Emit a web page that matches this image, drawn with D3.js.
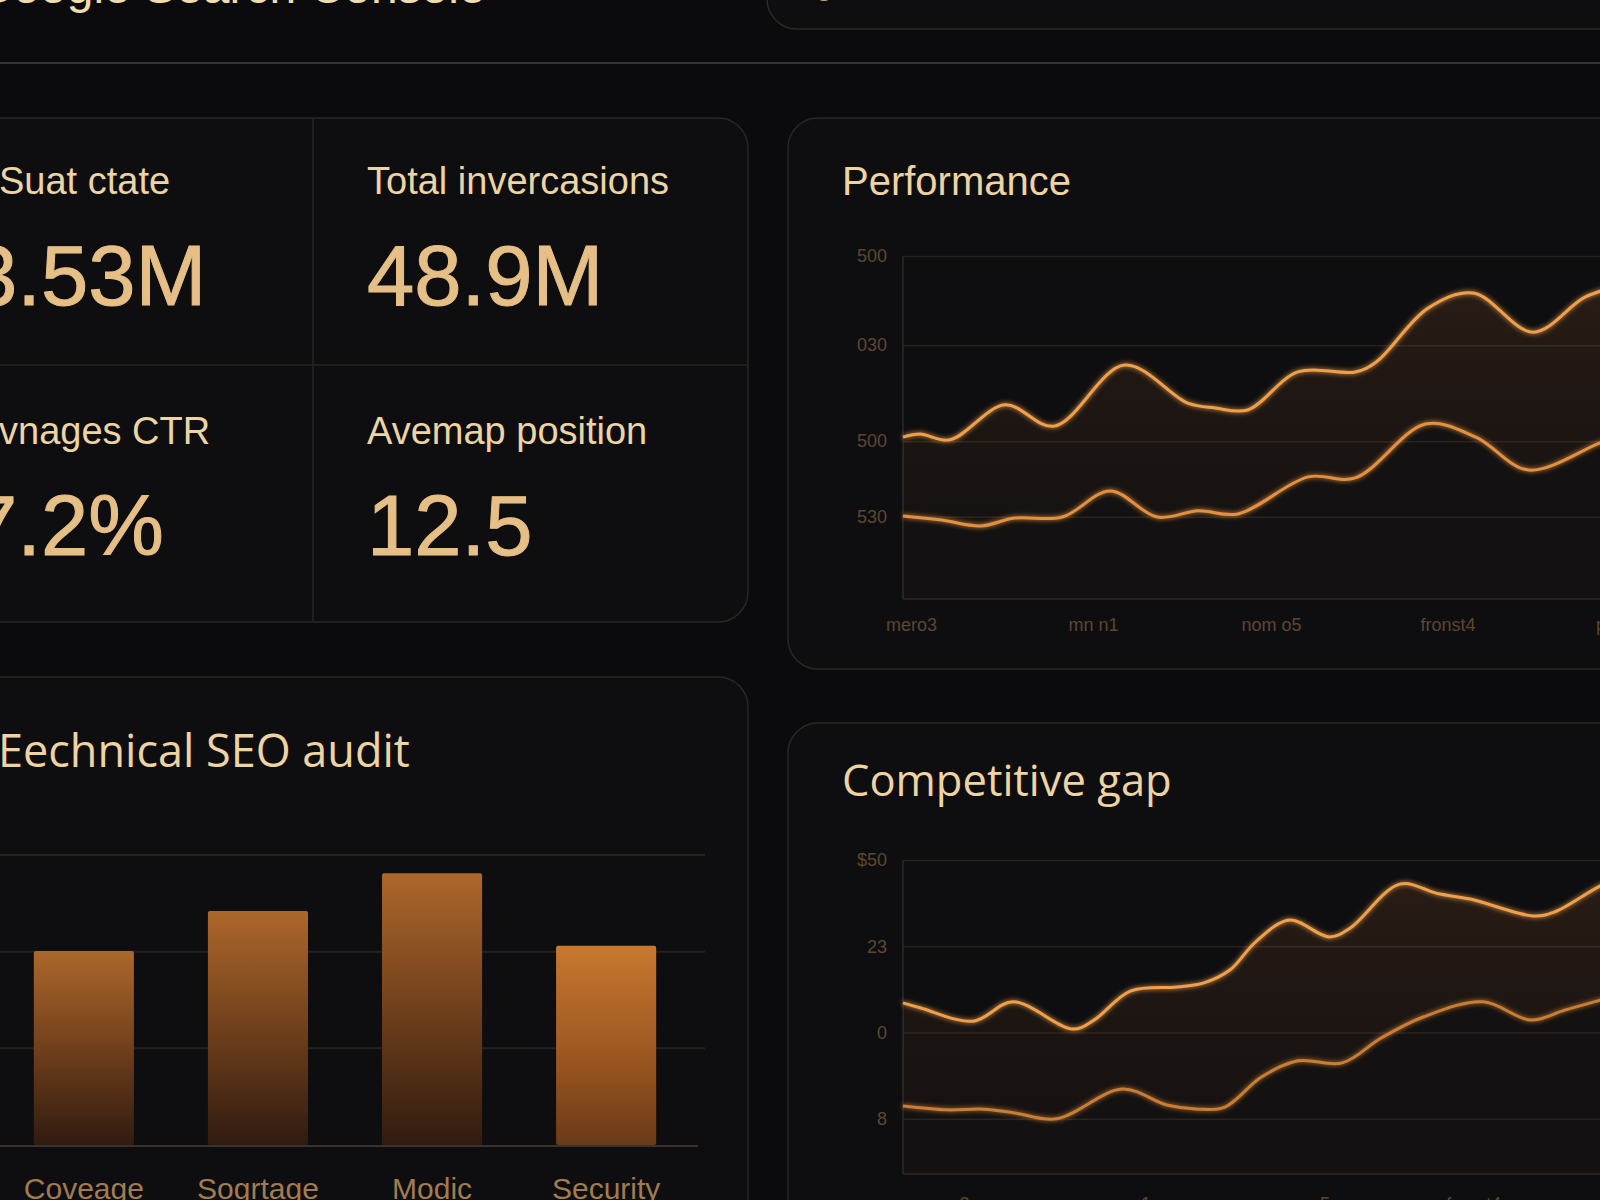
<!DOCTYPE html>
<html>
<head>
<meta charset="utf-8">
<script src="https://d3js.org/d3.v7.min.js"></script>
<style>
  body { margin: 0; background: #0b0b0d; }
  svg { display: block; }
</style>
</head>
<body>
<svg id="drawing_region"></svg>
<script>
// KPI tiles
const kpiLabels = ["Suat ctate", "Total invercasions", "vnages CTR", "Avemap position"];
const kpiValues = ["3.53M", "48.9M", "7.2%", "12.5"];

// Performance (two series, x in chart units 0..100)
const perfTopX = [0, 2.1, 5.8, 12.6, 18.7, 27.4, 35.2, 38.6, 42.6, 48.8, 55.9, 58.5, 64.9, 70.5, 77.9, 84.3, 89];
const perfTopY = [47.2, 48.1, 46.4, 56.6, 50.4, 68.2, 57.1, 55.7, 55.1, 66.2, 66.2, 69.1, 84.8, 89.2, 77.8, 88.0, 91.5];
const perfLowX = [0, 4.8, 9.6, 13.8, 19.7, 25.6, 31.4, 36.5, 41.4, 50.1, 55.9, 64.6, 70.8, 77.3, 86.2, 89];
const perfLowY = [24.2, 23.0, 21.3, 23.6, 23.9, 31.5, 23.9, 25.7, 24.8, 35.6, 35.3, 51.0, 47.2, 37.6, 45.5, 47.5];
const perfTicks = [100, 74, 46, 24];
const perfTickLabels = ["500", "030", "500", "530"];
const perfXTicks = [1, 23.5, 45.5, 67.3, 89];
const perfXLabels = ["mero3", "mn n1", "nom o5", "fronst4", "pmon7"];

// Technical SEO audit
const auditCategories = ["Coveage", "Sogrtage", "Modic", "Security"];
const auditValues = [50.2, 60.5, 70.3, 51.5];
const auditTicks = [0, 25, 50, 75];

// Competitive gap
const gapTopX = [0, 2.2, 8.7, 13.6, 21.0, 23.6, 28.1, 33.9, 37.2, 40.4, 43.6, 47.8, 52.7, 55.3, 61.4, 66.2, 70.1, 77.9, 80.5, 86.2, 89.2];
const gapTopY = [33.6, 32.1, 28.3, 33.9, 26.0, 28.6, 37.0, 38.2, 39.4, 43.1, 51.3, 57.6, 52.7, 55.3, 68.0, 65.2, 63.7, 58.8, 59.9, 67.5, 70.4];
const gapLowX = [0, 5.4, 10.0, 13.8, 19.0, 27.1, 32.6, 36.5, 39.8, 44.3, 48.8, 54.3, 59.1, 64.3, 71.7, 77.6, 81.8, 86.2, 89.2];
const gapLowY = [3.7, 2.6, 2.8, 1.7, 0, 8.6, 4.0, 2.8, 3.4, 12.1, 16.8, 16.2, 23.4, 29.5, 33.9, 28.6, 31.5, 34.4, 36.5];
const gapTicks = [75, 50, 25, 0];
const gapTickLabels = ["$50", "23", "0", "8"];
const gapXTicks = [5, 27.5, 49, 70.5, 85.5];
const gapXLabels = ["mero3", "mn n1", "nom o5", "fronst4", "pmon7"];

const W = 1600, H = 1200;
const svg = d3.select('#drawing_region').attr('width', W).attr('height', H);
const sans = "'Liberation Sans', Arial, sans-serif";
const round = "'Open Sans', 'Liberation Sans', sans-serif";

svg.append('rect').attr('width', W).attr('height', H).attr('fill', '#0b0b0d');

// defs: gradients + glow
const defs = svg.append('defs');
const areaGrad = defs.append('linearGradient').attr('id', 'areaGrad')
    .attr('x1', 0).attr('y1', 0).attr('x2', 0).attr('y2', 1);
areaGrad.append('stop').attr('offset', '0%').attr('stop-color', '#b8692c').attr('stop-opacity', 0.16);
areaGrad.append('stop').attr('offset', '100%').attr('stop-color', '#7a4520').attr('stop-opacity', 0.07);

const barGrad = defs.append('linearGradient').attr('id', 'barGrad')
    .attr('x1', 0).attr('y1', 0).attr('x2', 0).attr('y2', 1);
barGrad.append('stop').attr('offset', '0%').attr('stop-color', '#ad672b');
barGrad.append('stop').attr('offset', '55%').attr('stop-color', '#6a3c1a');
barGrad.append('stop').attr('offset', '100%').attr('stop-color', '#301b10');

const barHot = defs.append('linearGradient').attr('id', 'barHot')
    .attr('x1', 0).attr('y1', 0).attr('x2', 0).attr('y2', 1);
barHot.append('stop').attr('offset', '0%').attr('stop-color', '#c8782f');
barHot.append('stop').attr('offset', '60%').attr('stop-color', '#985420');
barHot.append('stop').attr('offset', '100%').attr('stop-color', '#6a3a18');

const glow = defs.append('filter').attr('id', 'glow')
    .attr('x', '-10%').attr('y', '-30%').attr('width', '120%').attr('height', '160%');
glow.append('feGaussianBlur').attr('stdDeviation', 2.5).attr('result', 'b');
const merge = glow.append('feMerge');
merge.append('feMergeNode').attr('in', 'b');
merge.append('feMergeNode').attr('in', 'SourceGraphic');

// header
svg.append('text').attr('x', -24).attr('y', 3)
    .attr('font-family', sans).attr('font-size', 48).attr('fill', '#f0dcae')
    .text('Google Search Console');
svg.append('rect').attr('x', 767).attr('y', -60).attr('width', 900).attr('height', 89)
    .attr('rx', 30).attr('fill', '#0e0e10').attr('stroke', '#2e2925').attr('stroke-width', 1.5);
svg.append('circle').attr('cx', 824).attr('cy', -9).attr('r', 9)
    .attr('fill', 'none').attr('stroke', '#c7b187').attr('stroke-width', 2);
svg.append('line').attr('x1', 0).attr('x2', W).attr('y1', 63).attr('y2', 63)
    .attr('stroke', '#3b332d').attr('stroke-width', 2);

// cards
const cards = [
    { x: -40, y: 118, w: 788, h: 504 },
    { x: 788, y: 118, w: 900, h: 551 },
    { x: -40, y: 677, w: 788, h: 620 },
    { x: 788, y: 723, w: 900, h: 600 }
];
svg.selectAll('rect.card').data(cards).enter().append('rect')
    .attr('class', 'card')
    .attr('x', d => d.x).attr('y', d => d.y)
    .attr('width', d => d.w).attr('height', d => d.h)
    .attr('rx', 30)
    .attr('fill', '#0e0e10').attr('stroke', '#2c2723').attr('stroke-width', 1.5);

// KPI tiles
svg.append('line').attr('x1', 313).attr('x2', 313).attr('y1', 119).attr('y2', 621)
    .attr('stroke', '#2a2521').attr('stroke-width', 1.5);
svg.append('line').attr('x1', 0).attr('x2', 747).attr('y1', 365).attr('y2', 365)
    .attr('stroke', '#2a2521').attr('stroke-width', 1.5);

const kpiPos = [
    { lx: -1, vx: -30, ly: 194, vy: 305 },
    { lx: 367, vx: 367, ly: 194, vy: 305 },
    { lx: -1, vx: -30, ly: 444, vy: 555 },
    { lx: 367, vx: 367, ly: 444, vy: 555 }
];
kpiLabels.forEach((lab, i) => {
    const p = kpiPos[i];
    svg.append('text').attr('x', p.lx).attr('y', p.ly)
        .attr('font-family', sans).attr('font-size', 38).attr('fill', '#ecd4a5')
        .text(lab);
    svg.append('text').attr('x', p.vx).attr('y', p.vy)
        .attr('font-family', sans).attr('font-size', 85).attr('fill', '#e6bf86')
        .attr('stroke', '#e6bf86').attr('stroke-width', 1)
        .text(kpiValues[i]);
});

// band chart: two lines with filled gap
function bandChart(cfg) {
    const g = svg.append('g');
    const x = d3.scaleLinear().domain([0, 100]).range([903, 1712]);
    const y = d3.scaleLinear().domain(cfg.yDomain).range(cfg.yRange);

    g.append('text').attr('x', 842).attr('y', cfg.titleY)
        .attr('font-family', cfg.titleFont).attr('font-size', cfg.titleSize).attr('fill', '#eed3a3')
        .text(cfg.title);

    const yAxis = g.append('g').attr('transform', 'translate(903,0)')
        .call(d3.axisLeft(y).tickValues(cfg.ticks)
            .tickFormat((d, i) => cfg.tickLabels[i])
            .tickSize(-800).tickPadding(16));
    yAxis.select('.domain').remove();
    yAxis.selectAll('line').attr('stroke', '#26221e').attr('stroke-width', 1.5);
    yAxis.selectAll('text').attr('font-family', sans).attr('font-size', 18).attr('fill', '#5e4731');

    const xAxis = g.append('g').attr('transform', `translate(0,${cfg.yRange[0]})`)
        .call(d3.axisBottom(x).tickValues(cfg.xTicks)
            .tickFormat((d, i) => cfg.xLabels[i])
            .tickSize(0).tickPadding(cfg.xPad));
    xAxis.select('.domain').remove();
    xAxis.selectAll('text').attr('font-family', sans).attr('font-size', 18).attr('fill', '#5e4731');

    g.append('line').attr('x1', 903).attr('x2', 903).attr('y1', cfg.yRange[1]).attr('y2', cfg.yRange[0])
        .attr('stroke', '#2f2924').attr('stroke-width', 1.5);
    g.append('line').attr('x1', 903).attr('x2', W).attr('y1', cfg.yRange[0]).attr('y2', cfg.yRange[0])
        .attr('stroke', '#2f2924').attr('stroke-width', 1.5);

    const top = d3.zip(cfg.topX, cfg.topY);
    const low = d3.zip(cfg.lowX, cfg.lowY);
    const line = d3.line().x(d => x(d[0])).y(d => y(d[1])).curve(d3.curveCatmullRom.alpha(0.5));

    // gap fill: upper line forward, lower line back
    const back = line(low.slice().reverse());
    g.append('path')
        .attr('d', line(top) + 'L' + back.slice(1) + 'Z')
        .attr('fill', 'url(#areaGrad)');
    // faint wash under the lower line
    const under = d3.area().x(d => x(d[0])).y0(cfg.yRange[0]).y1(d => y(d[1]))
        .curve(d3.curveCatmullRom.alpha(0.5));
    g.append('path').attr('d', under(low)).attr('fill', '#7a4520').attr('opacity', 0.05);

    g.append('path').attr('d', line(top))
        .attr('fill', 'none').attr('stroke', '#f0a04c').attr('stroke-width', 3)
        .attr('filter', 'url(#glow)');
    g.append('path').attr('d', line(low))
        .attr('fill', 'none').attr('stroke', cfg.lowColor).attr('stroke-width', 3)
        .attr('filter', 'url(#glow)');
}

bandChart({
    title: 'Performance', titleY: 195, titleSize: 40, titleFont: sans,
    yDomain: [0, 100], yRange: [599, 256],
    ticks: perfTicks, tickLabels: perfTickLabels,
    xTicks: perfXTicks, xLabels: perfXLabels, xPad: 19,
    topX: perfTopX, topY: perfTopY, lowX: perfLowX, lowY: perfLowY,
    lowColor: '#e3903f'
});

bandChart({
    title: 'Competitive gap', titleY: 796, titleSize: 43.5, titleFont: round,
    yDomain: [-16, 75], yRange: [1174, 860],
    ticks: gapTicks, tickLabels: gapTickLabels,
    xTicks: gapXTicks, xLabels: gapXLabels, xPad: 23,
    topX: gapTopX, topY: gapTopY, lowX: gapLowX, lowY: gapLowY,
    lowColor: '#c97d36'
});

// Technical SEO audit bars
const tech = svg.append('g');
tech.append('text').attr('x', -2).attr('y', 767)
    .attr('font-family', round).attr('font-size', 45).attr('fill', '#eed3a3')
    .text('Eechnical SEO audit');

const bx = d3.scaleBand().domain(auditCategories).range([-1, 691])
    .paddingInner(0.425).paddingOuter(0.2);
const by = d3.scaleLinear().domain([0, 75]).range([1145, 855]);

tech.selectAll('line.grid').data(auditTicks.slice(1)).enter().append('line')
    .attr('class', 'grid')
    .attr('x1', 0).attr('x2', 705)
    .attr('y1', d => by(d)).attr('y2', d => by(d))
    .attr('stroke', '#25211d').attr('stroke-width', 2);

tech.selectAll('rect.bar').data(auditValues).enter().append('rect')
    .attr('class', 'bar')
    .attr('x', (d, i) => bx(auditCategories[i]))
    .attr('y', d => by(d))
    .attr('width', bx.bandwidth())
    .attr('height', d => by(0) - by(d))
    .attr('rx', 2)
    .attr('fill', (d, i) => i === 3 ? 'url(#barHot)' : 'url(#barGrad)');

tech.append('line').attr('x1', 0).attr('x2', 698).attr('y1', by(0) + 1).attr('y2', by(0) + 1)
    .attr('stroke', '#3a332d').attr('stroke-width', 2);

tech.selectAll('text.cat').data(auditCategories).enter().append('text')
    .attr('class', 'cat')
    .attr('x', d => bx(d) + bx.bandwidth() / 2)
    .attr('y', 1199)
    .attr('text-anchor', 'middle')
    .attr('font-family', sans).attr('font-size', 30).attr('fill', '#a07c50')
    .text(d => d);
</script>
</body>
</html>
